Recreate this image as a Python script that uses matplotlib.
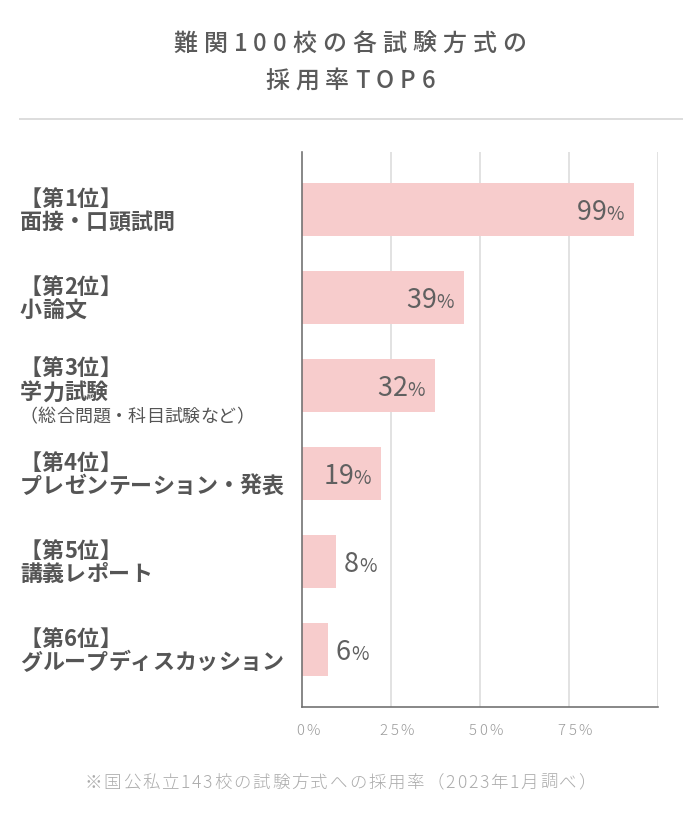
import matplotlib
matplotlib.use('Agg')
import matplotlib.pyplot as plt
from matplotlib.font_manager import FontProperties, findfont, get_font

JP = 'Noto Sans CJK JP'
plt.rcParams['font.family'] = [JP, 'DejaVu Sans']

# data
title_lines = ['難関100校の各試験方式の', '採用率TOP6']
ranks = ['【第1位】', '【第2位】', '【第3位】', '【第4位】', '【第5位】', '【第6位】']
methods = ['面接・口頭試問', '小論文', '学力試験', 'プレゼンテーション・発表', '講義レポート', 'グループディスカッション']
notes = ['', '', '（総合問題・科目試験など）', '', '', '']
rates = [99, 39, 32, 19, 8, 6]
# bar lengths as drawn in the source (they do not follow the printed rates)
bar_lengths = [93.3, 45.5, 37.4, 22.2, 9.6, 7.3]
tick_values = [0, 25, 50, 75]
tick_labels = ['0%', '25%', '50%', '75%']
footnote = '※国公私立143校の試験方式への採用率（2023年1月調べ）'

W, H = 700, 832
PT = 0.72  # points per pixel at dpi 100

fig = plt.figure(figsize=(W / 100, H / 100), dpi=100)
ax = fig.add_axes([302 / W, 1 - 707 / H, 356 / W, 555 / H])


def char_widths(text, size, weight):
    font = get_font(findfont(FontProperties(family=JP, weight=weight)))
    font.set_size(size, 72)
    return [font.load_char(ord(c)).linearHoriAdvance / 65536 for c in text]


def spaced(parts, xy, coords, ha='left', sep=0, dx=0, dy=0, color='#555555', weight='normal'):
    # draws text char by char so letter spacing can be set
    chars = []
    for s, size in parts:
        for c, w in zip(s, char_widths(s, size, weight)):
            chars.append((c, size, w))
    total = sum(w for _, _, w in chars) + sep * (len(chars) - 1)
    x = dx - {'left': 0, 'center': total / 2, 'right': total}[ha]
    for c, size, w in chars:
        ax.annotate(c, xy=xy, xycoords=coords, xytext=(x, dy), textcoords='offset points',
                    ha='left', va='baseline', fontsize=size, color=color,
                    fontweight=weight, annotation_clip=False)
        x += w + sep


# title
spaced([(title_lines[0], 24 * PT)], (350, H - 51), 'figure pixels', ha='center', sep=6 * PT,
       color='#5a5a5a', weight='medium')
spaced([(title_lines[1], 24 * PT)], (350, H - 88), 'figure pixels', ha='center', sep=6 * PT,
       color='#5a5a5a', weight='medium')
fig.add_artist(plt.Line2D([20 / W, 682 / W], [1 - 119 / H, 1 - 119 / H], color='#dddddd', lw=2 * PT))

# bars
y = list(range(len(methods)))
ax.barh(y, bar_lengths, height=0.6, color='#f7cccc', zorder=2)
ax.set_xlim(0, 100)
ax.set_ylim(len(methods) - 0.35, -0.65)

ax.set_xticks([25, 50, 75, 100])
ax.set_yticks([])
ax.tick_params(axis='x', length=0, labelbottom=False)
ax.grid(axis='x', color='#e2e2e2', lw=2 * PT, zorder=0)
ax.set_axisbelow(True)
for side in ['top', 'right']:
    ax.spines[side].set_visible(False)
for side in ['left', 'bottom']:
    ax.spines[side].set_color('#6e6e6e')
    ax.spines[side].set_linewidth(1.6 * PT)

# value labels
for i, (r, b) in enumerate(zip(rates, bar_lengths)):
    parts = [(str(r), 27 * PT), ('%', 19 * PT)]
    if b > 15:
        spaced(parts, (b, i), 'data', ha='right', dx=-10 * PT, dy=-10.5 * PT, color='#606060')
    else:
        spaced(parts, (b, i), 'data', ha='left', dx=8 * PT, dy=-10.5 * PT, color='#606060')

# category labels
for i, (rk, m, n) in enumerate(zip(ranks, methods, notes)):
    em = 22
    offs = [-18.5, 5.5] if n else [-12, 11]
    for line, off in zip([rk, m], offs):
        spaced([(line, em * PT)], (20, i), ('figure pixels', 'data'),
               dy=-(off + 0.38 * em) * PT, color='#555555', weight='bold')
    if n:
        spaced([(n, 18 * PT)], (20, i), ('figure pixels', 'data'),
               dy=-(29.5 + 0.38 * 18) * PT, color='#555555')

# x tick labels
for v, lab in zip(tick_values, tick_labels):
    spaced([(lab, 15 * PT)], (v, 0), ('data', 'axes fraction'), ha='center', sep=2.5 * PT,
           dx=6 * PT, dy=-(735 - 707) * PT, color='#9a9a9a', weight='light')

# footnote
spaced([(footnote, 17.5 * PT)], (340, H - 788), 'figure pixels', ha='center', sep=1.8 * PT,
       color='#ababab', weight='light')

fig.savefig('out.png', dpi=100)
